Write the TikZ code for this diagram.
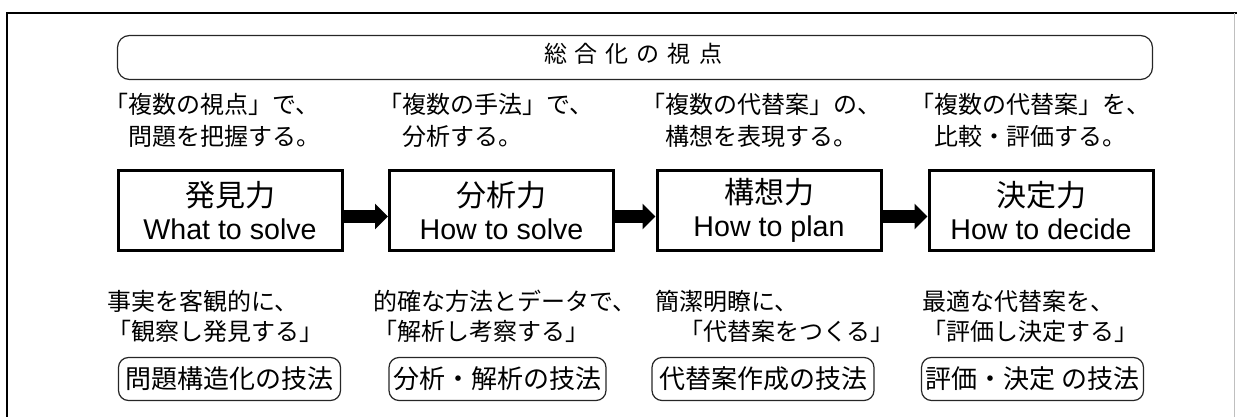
\documentclass[tikz,border=0pt]{standalone}
\usepackage{fontspec}
\setmainfont{Liberation Sans}
\newfontfamily\jp{Noto Sans CJK JP}
\usetikzlibrary{arrows.meta}
\begin{document}
\begin{tikzpicture}[x=0.5pt,y=-0.5pt,
  mainbox/.style={draw, line width=1.5pt, minimum width=112pt, minimum height=40pt,
    inner sep=0pt, align=center, font=\fontsize{14.3}{16.5}\selectfont},
  mainjp/.style={},
  techbox/.style={draw=black!85, line width=0.6pt, rounded corners=5pt,
    minimum width=111pt, minimum height=21.5pt, inner sep=0pt,
    font=\jp\fontsize{13}{15}\selectfont},
  titlebox/.style={draw=black!85, line width=0.6pt, rounded corners=6pt,
    minimum width=517.5pt, minimum height=22pt, inner sep=0pt},
  uptext/.style={anchor=base west, inner sep=0pt, align=left,
    font=\jp\fontsize{12}{16.5}\selectfont},
  lowtext/.style={anchor=base west, inner sep=0pt, align=left,
    font=\jp\fontsize{12}{15}\selectfont},
  flow/.style={line width=6.5pt, -{Triangle[length=6.5pt,width=12.5pt]}},
  frameline/.style={line width=0.85pt}
]
\newcommand{\boxjp}[1]{{\jp\fontsize{15}{16.5}\selectfont #1}}
\useasboundingbox (0,0) rectangle (1237,417);
% outer frame
\draw[frameline] (7,417) -- (7,13) -- (1237,13);
\draw[black!25, line width=0.5pt] (1234,13) -- (1234,417);

% title
\node[titlebox] (title) at (635,57.5) {};
\node[inner sep=0pt, font=\jp\fontsize{11.5}{13}\selectfont] (titletext) at (633,53.5)
  {総\hspace{4pt}合\hspace{4pt}化\hspace{4pt}の\hspace{4pt}視\hspace{4pt}点};

% upper texts (base = baseline of last line)
\node[uptext] (u1) at (104,146) {「複数の視点」で、\\　問題を把握する。};
\node[uptext] (u2) at (378,146) {「複数の手法」で、\\　分析する。};
\node[uptext] (u3) at (641,146) {「複数の代替案」の、\\　構想を表現する。};
\node[uptext] (u4) at (910,146) {「複数の代替案」を、\\　比較・評価する。};

% main boxes
\node[mainbox] (b1) at (230,210.5) {\boxjp{発見力}\\What to solve};
\node[mainbox] (b2) at (501.5,210.5) {\boxjp{分析力}\\How to solve};
\node[mainbox] (b3) at (769,210.5) {\boxjp{構想力}\\How to plan};
\node[mainbox] (b4) at (1041,210.5) {\boxjp{決定力}\\How to decide};

\draw[flow] ([yshift=-3pt]b1.east) -- ([yshift=-3pt]b2.west);
\draw[flow] ([yshift=-3pt]b2.east) -- ([yshift=-3pt]b3.west);
\draw[flow] ([yshift=-3pt]b3.east) -- ([yshift=-3pt]b4.west);

% lower texts
\node[lowtext] (l1) at (107,340) {事実を客観的に、\\「観察し発見する」};
\node[lowtext] (l2) at (373,340) {的確な方法とデータで、\\「解析し考察する」};
\node[lowtext] (l3) at (655,340) {簡潔明瞭に、\\　「代替案をつくる」};
\node[lowtext] (l4) at (922,340) {最適な代替案を、\\「評価し決定する」};

% technique boxes
\node[techbox] (t1) at (229.5,379) {問題構造化の技法};
\node[techbox, minimum width=108.5pt] (t2) at (497.5,379) {分析・解析の技法};
\node[techbox] (t3) at (763,379) {代替案作成の技法};
\node[techbox] (t4) at (1032.5,379) {評価・決定 の技法};
\end{tikzpicture}
\end{document}
